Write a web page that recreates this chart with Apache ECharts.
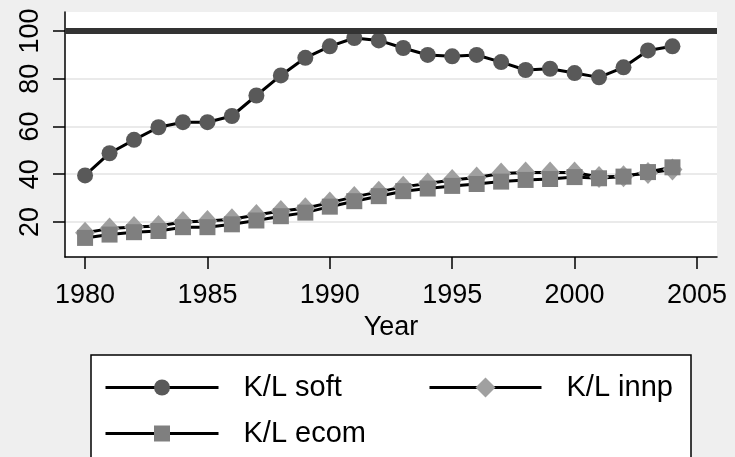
<!DOCTYPE html>
<html>
<head>
<meta charset="utf-8">
<script src="https://cdn.jsdelivr.net/npm/echarts@6/dist/echarts.min.js"></script>
<style>
  html, body { margin: 0; padding: 0; background: #efefef; }
  #chart { width: 735px; height: 457px; }
</style>
</head>
<body>
<div id="chart"></div>
<script>
// data
var years = [1980, 1981, 1982, 1983, 1984, 1985, 1986, 1987, 1988, 1989, 1990, 1991, 1992,
             1993, 1994, 1995, 1996, 1997, 1998, 1999, 2000, 2001, 2002, 2003, 2004];
var klSoft = [39.5, 48.8, 54.4, 59.7, 61.8, 61.8, 64.4, 73.0, 81.4, 88.8, 93.6, 97.1, 96.1,
              92.9, 90.0, 89.4, 90.0, 87.0, 83.7, 84.2, 82.4, 80.6, 84.8, 91.9, 93.6];
var klInnp = [15.5, 17.2, 17.9, 18.3, 20.0, 20.4, 21.1, 22.9, 24.6, 25.7, 28.1, 30.5, 32.6,
              34.7, 36.1, 37.6, 38.6, 40.3, 40.7, 40.7, 40.7, 38.8, 39.2, 40.5, 42.0];
var klEcom = [13.3, 14.7, 15.7, 16.2, 17.8, 17.8, 19.0, 20.6, 22.4, 23.9, 26.4, 28.7, 30.8,
              32.9, 34.0, 35.1, 35.9, 36.9, 37.6, 38.0, 38.8, 38.3, 39.0, 40.9, 42.9];
var xTicks = [1980, 1985, 1990, 1995, 2000, 2005];
var yTicks = [20, 40, 60, 80, 100];
var refLine = 100;

var font = '"Liberation Sans", Arial, sans-serif';

function pairs(vals) {
    return years.map(function (y, i) { return [y, vals[i]]; });
}

var myChart = echarts.init(document.getElementById('chart'), null, { renderer: 'canvas' });

var legendText = { color: '#000', fontSize: 29, fontFamily: font, padding: [0, 0, 0, 20] };
var legendLine = { color: '#000', width: 3 };

var option = {
    backgroundColor: '#efefef',
    animation: false,
    grid: {
        left: 65, right: 18, top: 12, bottom: 200,
        show: true, backgroundColor: '#ffffff', borderWidth: 0
    },
    xAxis: {
        type: 'value',
        min: 1979.18,
        max: 2005.82,
        name: 'Year',
        nameLocation: 'middle',
        nameGap: 46,
        nameTextStyle: { color: '#000', fontSize: 27, fontFamily: font },
        axisLine: { show: true, onZero: false, lineStyle: { color: '#000', width: 1.5 } },
        axisTick: { show: true, length: 12, customValues: xTicks, lineStyle: { color: '#000', width: 1.5 } },
        axisLabel: {
            customValues: xTicks, margin: 25, color: '#000', fontSize: 27, fontFamily: font,
            formatter: function (v) { return String(v); }
        },
        splitLine: { show: false }
    },
    yAxis: {
        type: 'value',
        min: 5.3,
        max: 108,
        axisLine: { show: true, onZero: false, lineStyle: { color: '#000', width: 1.5 } },
        axisTick: { show: true, length: 12, customValues: yTicks, lineStyle: { color: '#000', width: 1.5 } },
        axisLabel: {
            customValues: yTicks, rotate: 90, margin: 21, color: '#000', fontSize: 27, fontFamily: font,
            formatter: function (v) { return String(v); }
        },
        splitLine: { show: true, lineStyle: { color: '#eaeaea', width: 2 } }
    },
    legend: [
        {
            data: ['K/L soft'], left: 104, top: 373, padding: 0,
            itemWidth: 113, itemHeight: 20, textStyle: legendText, lineStyle: legendLine
        },
        {
            data: ['K/L innp'], left: 428, top: 373, padding: 0,
            itemWidth: 112, itemHeight: 25, textStyle: legendText, lineStyle: legendLine
        },
        {
            data: ['K/L ecom'], left: 104, top: 419, padding: 0,
            itemWidth: 113, itemHeight: 20, textStyle: legendText, lineStyle: legendLine
        }
    ],
    graphic: [{
        type: 'rect',
        z: -1,
        shape: { x: 91, y: 355, width: 600, height: 130 },
        style: { fill: '#ffffff', stroke: '#000', lineWidth: 1.5 }
    }],
    series: [
        {
            name: 'K/L soft',
            type: 'line',
            data: pairs(klSoft),
            symbol: 'circle',
            symbolSize: 16,
            itemStyle: { color: '#595959' },
            lineStyle: { color: '#000', width: 3 },
            emphasis: { disabled: true },
            markLine: {
                silent: true,
                symbol: 'none',
                label: { show: false },
                lineStyle: { color: '#333333', width: 6, type: 'solid' },
                data: [{ yAxis: refLine }]
            }
        },
        {
            name: 'K/L innp',
            type: 'line',
            data: pairs(klInnp),
            symbol: 'diamond',
            symbolSize: [20, 22],
            itemStyle: { color: '#a0a0a0' },
            lineStyle: { color: '#000', width: 3 },
            emphasis: { disabled: true }
        },
        {
            name: 'K/L ecom',
            type: 'line',
            data: pairs(klEcom),
            symbol: 'rect',
            symbolSize: 16,
            itemStyle: { color: '#7f7f7f' },
            lineStyle: { color: '#000', width: 3 },
            emphasis: { disabled: true }
        }
    ]
};

myChart.setOption(option);
</script>
</body>
</html>
